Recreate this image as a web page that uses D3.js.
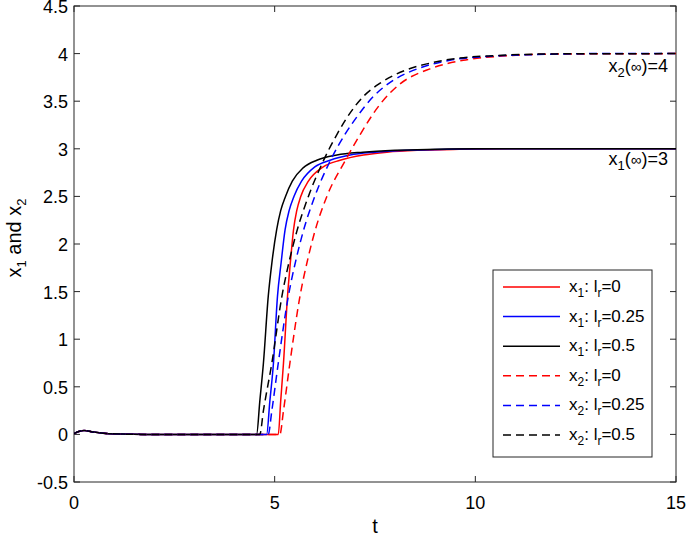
<!DOCTYPE html>
<html>
<head>
<meta charset="utf-8">
<script src="https://cdn.jsdelivr.net/npm/d3@7"></script>
<style>
  html, body { margin: 0; padding: 0; background: #fff; }
  svg text { font-family: "Liberation Sans", Arial, Helvetica, sans-serif; }
</style>
</head>
<body>
<svg id="chart" width="688" height="538"></svg>
<script>
// ---------- data (t, value) ----------
const xTicks = [0, 5, 10, 15];
const yTicks = [-0.5, 0, 0.5, 1, 1.5, 2, 2.5, 3, 3.5, 4, 4.5];

const x1_lr0 = [[0,0.01],[0.25,0.04],[0.5,0.025],[0.8,0.01],[1.2,0.003],[1.8,0],[5.09,0],[5.15,0.35],[5.22,0.75],[5.32,1.45],[5.39,1.8],[5.47,2.15],[5.55,2.35],[5.65,2.5],[5.84,2.66],[6.21,2.81],[6.63,2.88],[7.21,2.935],[7.8,2.965],[8.6,2.985],[9.6,2.995],[11,3],[15,3]];
const x1_lr025 = [[0,0.01],[0.25,0.04],[0.5,0.025],[0.8,0.01],[1.2,0.003],[1.8,0],[4.80,0],[4.88,0.35],[4.97,0.75],[5.07,1.45],[5.16,1.8],[5.26,2.15],[5.36,2.35],[5.48,2.5],[5.67,2.66],[6.0,2.81],[6.38,2.88],[6.88,2.935],[7.5,2.965],[8.3,2.985],[9.3,2.995],[10.5,3],[15,3]];
const x1_lr05 = [[0,0.01],[0.25,0.04],[0.5,0.025],[0.8,0.01],[1.2,0.003],[1.8,0],[4.55,0],[4.63,0.35],[4.72,0.75],[4.84,1.45],[4.93,1.8],[5.05,2.15],[5.15,2.35],[5.27,2.5],[5.44,2.66],[5.71,2.8],[6.05,2.88],[6.55,2.935],[7.2,2.965],[8,2.985],[9,2.995],[10,3],[15,3]];
const x2_lr0 = [[0,0.01],[0.25,0.04],[0.5,0.025],[0.8,0.01],[1.2,0.003],[1.8,0],[5.13,0],[5.22,0.25],[5.38,0.75],[5.63,1.45],[5.83,1.85],[6.0,2.13],[6.30,2.5],[6.75,2.87],[7.13,3.15],[7.63,3.47],[8.12,3.68],[8.87,3.84],[9.70,3.93],[10.53,3.97],[12,3.995],[15,4.0]];
const x2_lr025 = [[0,0.01],[0.25,0.04],[0.5,0.025],[0.8,0.01],[1.2,0.003],[1.8,0],[4.84,0],[4.93,0.25],[5.09,0.75],[5.34,1.45],[5.54,1.85],[5.71,2.13],[6.0,2.5],[6.38,2.87],[6.75,3.15],[7.04,3.33],[7.46,3.55],[7.96,3.72],[8.62,3.85],[9.37,3.93],[10.3,3.97],[11.5,3.99],[13,4.0],[15,4.0]];
const x2_lr05 = [[0,0.01],[0.25,0.04],[0.5,0.025],[0.8,0.01],[1.2,0.003],[1.8,0],[4.63,0],[4.72,0.25],[4.93,0.75],[5.18,1.45],[5.38,1.85],[5.55,2.13],[5.84,2.5],[6.21,2.87],[6.55,3.15],[6.79,3.32],[7.21,3.55],[7.63,3.69],[8.29,3.83],[8.87,3.90],[9.54,3.95],[10.53,3.98],[12,3.997],[15,4.0]];

const seriesNames = ["x1_lr0", "x1_lr025", "x1_lr05", "x2_lr0", "x2_lr025", "x2_lr05"];
const seriesData = [x1_lr0, x1_lr025, x1_lr05, x2_lr0, x2_lr025, x2_lr05];
const seriesVar = ["1", "1", "1", "2", "2", "2"];
const seriesLr = ["0", "0.25", "0.5", "0", "0.25", "0.5"];
const seriesColor = ["#ff0000", "#0000ff", "#000000", "#ff0000", "#0000ff", "#000000"];
const seriesDashed = [false, false, false, true, true, true];

// ---------- layout ----------
const svg = d3.select("#chart");
const L = 74, R = 676, T = 6, B = 482;
const x = d3.scaleLinear().domain([0, 15]).range([L, R]);
const y = d3.scaleLinear().domain([-0.5, 4.5]).range([B, T]);
const tickLen = 6;
const axisColor = "#262626";
const tickFont = 18, legendFont = 17, labelFont = 20, subFont = 12;

// frame
svg.append("rect").attr("x", L).attr("y", T).attr("width", R - L).attr("height", B - T)
  .attr("fill", "none").attr("stroke", axisColor).attr("stroke-width", 1);

// ticks (inward, all sides)
const tg = svg.append("g").attr("stroke", axisColor).attr("stroke-width", 1);
xTicks.forEach(v => {
  tg.append("line").attr("x1", x(v)).attr("x2", x(v)).attr("y1", B).attr("y2", B - tickLen);
  tg.append("line").attr("x1", x(v)).attr("x2", x(v)).attr("y1", T).attr("y2", T + tickLen);
});
yTicks.forEach(v => {
  tg.append("line").attr("x1", L).attr("x2", L + tickLen).attr("y1", y(v)).attr("y2", y(v));
  tg.append("line").attr("x1", R).attr("x2", R - tickLen).attr("y1", y(v)).attr("y2", y(v));
});

// tick labels
svg.append("g").selectAll("text").data(xTicks).join("text")
  .attr("x", d => x(d)).attr("y", B + 27).attr("text-anchor", "middle")
  .attr("font-size", tickFont).attr("fill", "#000").text(d => d);
svg.append("g").selectAll("text").data(yTicks).join("text")
  .attr("x", L - 6).attr("y", d => y(d) + 7).attr("text-anchor", "end")
  .attr("font-size", tickFont).attr("fill", "#000").text(d => d);

// axis labels
svg.append("text").attr("x", x(7.5)).attr("y", 533).attr("text-anchor", "middle")
  .attr("font-size", labelFont).text("t");
const yl = svg.append("text").attr("transform", "translate(21,238) rotate(-90)")
  .attr("text-anchor", "middle").attr("font-size", labelFont);
yl.append("tspan").text("x");
yl.append("tspan").attr("font-size", 13).attr("dy", 5).text("1");
yl.append("tspan").attr("dy", -5).text(" and x");
yl.append("tspan").attr("font-size", 13).attr("dy", 5).text("2");

// lines
const line = d3.line().x(d => x(d[0])).y(d => y(d[1])).curve(d3.curveMonotoneX);
svg.append("clipPath").attr("id", "clip").append("rect")
  .attr("x", L).attr("y", T).attr("width", R - L).attr("height", B - T);
const lg = svg.append("g").attr("clip-path", "url(#clip)");
seriesData.forEach((data, i) => {
  lg.append("path").datum(data).attr("d", line)
    .attr("fill", "none").attr("stroke", seriesColor[i]).attr("stroke-width", 1.5)
    .attr("stroke-dasharray", seriesDashed[i] ? "8,5" : null);
});

// annotations
function annot(xp, yp, sub, rest) {
  const t = svg.append("text").attr("x", xp).attr("y", yp).attr("text-anchor", "end").attr("font-size", 18);
  t.append("tspan").text("x");
  t.append("tspan").attr("font-size", 13).attr("dy", 5).text(sub);
  t.append("tspan").attr("dy", -5).text("(");
  t.append("tspan").attr("font-size", 15).text("∞");
  t.append("tspan").text(rest);
}
annot(668, 72, "2", ")=4");
annot(668, 165, "1", ")=3");

// legend
const lx = 493, ly = 270, lw = 159, lh = 187;
svg.append("rect").attr("x", lx).attr("y", ly).attr("width", lw).attr("height", lh)
  .attr("fill", "#fff").attr("stroke", axisColor).attr("stroke-width", 1);
seriesNames.forEach((name, i) => {
  const yy = 287 + i * 29.6;
  svg.append("line").attr("x1", 503).attr("x2", 560).attr("y1", yy).attr("y2", yy)
    .attr("stroke", seriesColor[i]).attr("stroke-width", 1.5)
    .attr("stroke-dasharray", seriesDashed[i] ? "8,5" : null);
  const t = svg.append("text").attr("x", 569).attr("y", yy + 5).attr("font-size", legendFont);
  t.append("tspan").text("x");
  t.append("tspan").attr("font-size", subFont).attr("dy", 5).text(seriesVar[i]);
  t.append("tspan").attr("dy", -5).text(": l");
  t.append("tspan").attr("font-size", subFont).attr("dy", 5).text("r");
  t.append("tspan").attr("dy", -5).text("=" + seriesLr[i]);
});
</script>
</body>
</html>
